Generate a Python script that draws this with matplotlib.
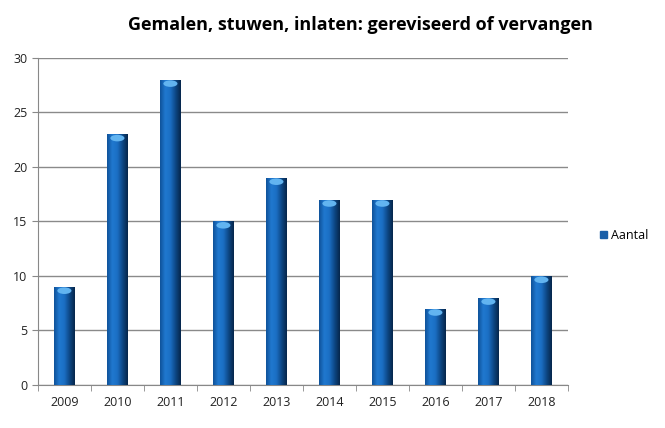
import matplotlib
import matplotlib.pyplot as plt
import numpy as np
from matplotlib.colors import LinearSegmentedColormap

matplotlib.use("Agg")

## Data
years = ["2009", "2010", "2011", "2012", "2013", "2014", "2015", "2016", "2017", "2018"]
aantal = [9, 23, 28, 15, 19, 17, 17, 7, 8, 10]

plt.rcParams["font.family"] = ["Open Sans", "DejaVu Sans"]

fig = plt.figure(figsize=(6.65, 4.28), dpi=100)
ax = fig.add_axes([0.057, 0.1005, 0.797, 0.764])

x = np.arange(len(years))
bars = ax.bar(x, aantal, width=0.38, color="#1a6cc0", label="Aantal", zorder=2)

# cylinder-ish shading for each bar
shade = LinearSegmentedColormap.from_list(
    "shade", ["#0f5299", "#2079d0", "#1b6ec3", "#0d4785", "#06264a"])
grad = np.linspace(0, 1, 64).reshape(1, -1)
for b in bars:
    x0, w, h = b.get_x(), b.get_width(), b.get_height()
    im = ax.imshow(grad, cmap=shade, aspect="auto", extent=(x0, x0 + w, 0, h),
                   zorder=3, interpolation="bicubic")
    im.set_clip_path(b)
    ax.add_patch(matplotlib.patches.Ellipse((x0 + w / 2, h - 0.35), w * 0.7, 0.6,
                                            color="#62b4f0", zorder=4, lw=0))

ax.set_xlim(-0.5, len(years) - 0.5)
ax.set_ylim(0, 30)
ax.set_yticks(range(0, 31, 5))
ax.set_xticks(x)
ax.set_xticklabels(years)
ax.set_xticks(np.arange(-0.5, len(years), 1), minor=True)
ax.tick_params(axis="x", which="major", length=0, pad=8, labelsize=9, colors="#222222")
ax.tick_params(axis="x", which="minor", length=4, color="#888888")
ax.tick_params(axis="y", length=4, color="#888888", labelsize=9, colors="#222222")
ax.yaxis.grid(True, color="#8a8a8a", lw=1, zorder=0)
for s in ["top", "right"]:
    ax.spines[s].set_visible(False)
for s in ["left", "bottom"]:
    ax.spines[s].set_color("#888888")

ax.set_title("Gemalen, stuwen, inlaten: gereviseerd of vervangen",
             fontsize=13, fontweight="bold", pad=20, x=0.609)

handle = matplotlib.patches.Patch(color="#1a5fa8")
fig.legend([handle], ["Aantal"], loc="center left", bbox_to_anchor=(0.885, 0.45),
           frameon=False, fontsize=9, handlelength=0.6, handleheight=0.6,
           handletextpad=0.3)

fig.savefig("out.png", dpi=100)
